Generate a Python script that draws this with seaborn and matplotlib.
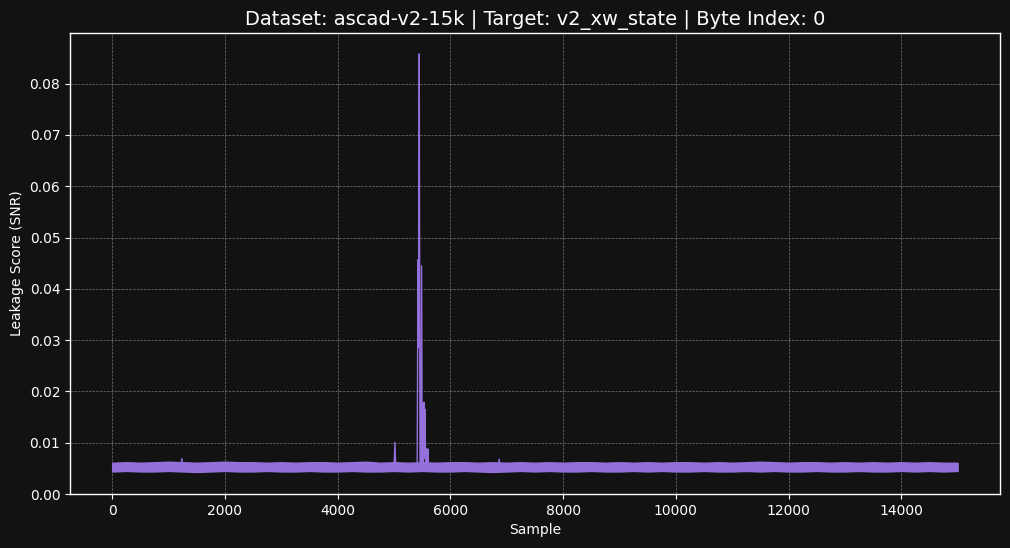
import numpy as np
import pandas as pd
import matplotlib
matplotlib.use("Agg")
import matplotlib.pyplot as plt
import seaborn as sns

# noise floor envelope of the SNR trace, read every 250 samples
band_samples = list(range(0, 15001, 250))
band_hi = [0.0061, 0.0062, 0.0061, 0.0062, 0.0063, 0.0062, 0.0061, 0.0062, 0.0063, 0.0062,
           0.0062, 0.0061, 0.0062, 0.0061, 0.0062, 0.0062, 0.0061, 0.0062, 0.0063, 0.0061,
           0.0062, 0.0061, 0.0062, 0.0061, 0.0062, 0.0062, 0.0061, 0.0062, 0.0061, 0.0062,
           0.0061, 0.0062, 0.0061, 0.0062, 0.0062, 0.0061, 0.0062, 0.0061, 0.0062, 0.0061,
           0.0062, 0.0062, 0.0061, 0.0062, 0.0061, 0.0062, 0.0063, 0.0062, 0.0061, 0.0062,
           0.0062, 0.0061, 0.0062, 0.0061, 0.0062, 0.0061, 0.0062, 0.0061, 0.0062, 0.0061,
           0.0061]
band_lo = [0.0044, 0.0045, 0.0044, 0.0044, 0.0045, 0.0044, 0.0043, 0.0044, 0.0045, 0.0044,
           0.0044, 0.0045, 0.0044, 0.0044, 0.0045, 0.0044, 0.0044, 0.0045, 0.0044, 0.0044,
           0.0045, 0.0044, 0.0045, 0.0044, 0.0044, 0.0045, 0.0044, 0.0043, 0.0044, 0.0045,
           0.0044, 0.0045, 0.0044, 0.0044, 0.0045, 0.0044, 0.0044, 0.0045, 0.0044, 0.0045,
           0.0044, 0.0044, 0.0045, 0.0044, 0.0044, 0.0045, 0.0044, 0.0045, 0.0044, 0.0044,
           0.0045, 0.0044, 0.0044, 0.0045, 0.0044, 0.0044, 0.0045, 0.0044, 0.0045, 0.0044,
           0.0045]

# leakage peaks and small spikes above the floor
peak_samples = [0, 1220, 1235, 1250, 5000, 5016, 5030,
                5410, 5425, 5435, 5447, 5460, 5475, 5488, 5500, 5510, 5520, 5530,
                5540, 5550, 5560, 5575, 5590, 5600, 5615, 6850, 6866, 6880, 15000]
peak_snr = [0.0053, 0.0053, 0.0069, 0.0053, 0.0053, 0.0101, 0.0053,
            0.0053, 0.0457, 0.0286, 0.0858, 0.0060, 0.0060, 0.0445, 0.0060, 0.0175, 0.0060, 0.0179,
            0.0070, 0.0165, 0.0060, 0.0088, 0.0060, 0.0088, 0.0053, 0.0053, 0.0068, 0.0053, 0.0053]

dataset = "ascad-v2-15k"
target = "v2_xw_state"
byte_index = 0

bg = "#121212"
line_color = "#9370DB"

sns.set_style("dark", rc={
    "axes.facecolor": bg,
    "figure.facecolor": bg,
    "axes.edgecolor": "white",
    "axes.labelcolor": "white",
    "xtick.color": "white",
    "ytick.color": "white",
    "text.color": "white",
    "xtick.bottom": True,
    "ytick.left": True,
})
plt.rcParams["font.family"] = ["DejaVu Sans"]

fig, ax = plt.subplots(figsize=(10.1, 5.48), dpi=100)
fig.subplots_adjust(left=0.0693, right=0.990, bottom=0.0985, top=0.9398)

ax.fill_between(band_samples, band_lo, band_hi, color=line_color, linewidth=1.0)
peaks = pd.DataFrame({"Sample": peak_samples, "SNR": peak_snr})
sns.lineplot(data=peaks, x="Sample", y="SNR", color=line_color, linewidth=1.0, ax=ax)

ax.set_ylim(bottom=0)
ax.set_title(f"Dataset: {dataset} | Target: {target} | Byte Index: {byte_index}",
             fontsize=14, color="white")
ax.set_xlabel("Sample", fontsize=10)
ax.set_ylabel("Leakage Score (SNR)", fontsize=10)
ax.tick_params(labelsize=10, length=3.5, width=0.8)
ax.grid(True, linestyle="--", linewidth=0.5, color="gray", alpha=0.9)
for s in ax.spines.values():
    s.set_color("white")
    s.set_linewidth(1.0)

fig.savefig("out.png", dpi=100, facecolor=bg)
